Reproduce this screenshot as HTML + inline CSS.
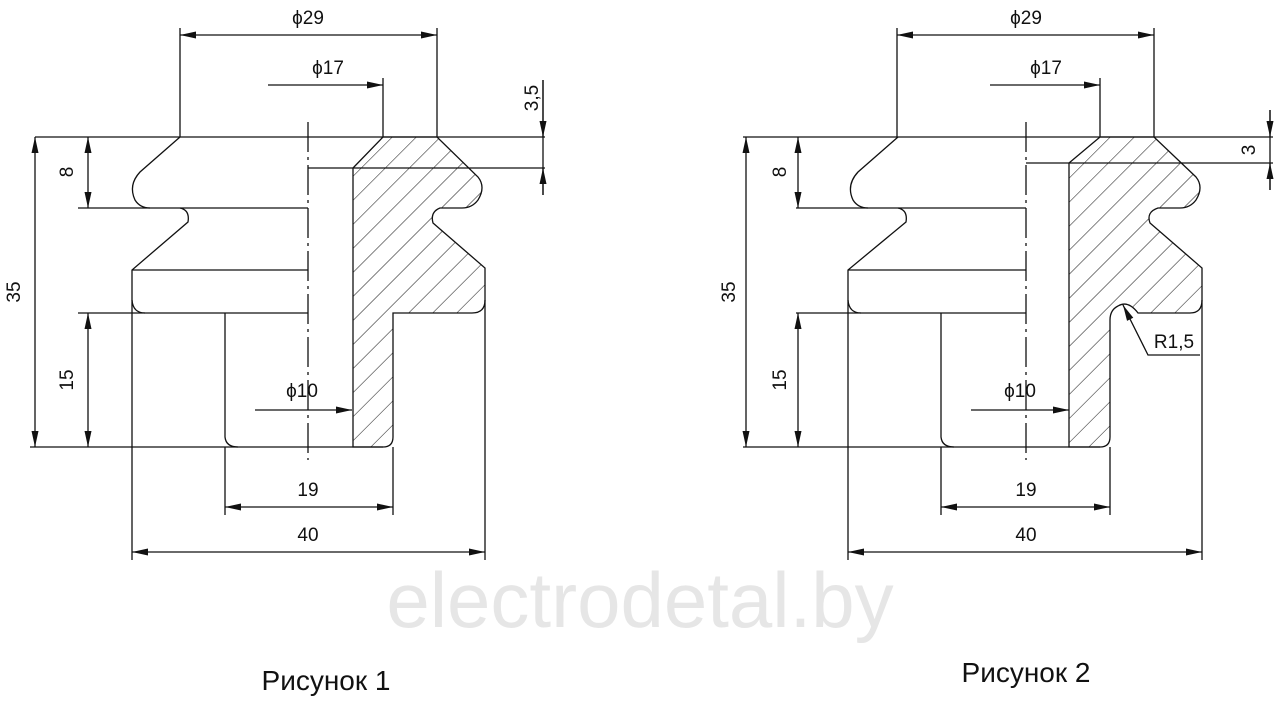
<!DOCTYPE html>
<html><head><meta charset="utf-8"><style>
html,body{margin:0;padding:0;background:#fff;width:1280px;height:701px;overflow:hidden}
svg{display:block}
text{font-family:"Liberation Sans",sans-serif;fill:#111}
</style></head><body>
<svg width="1280" height="701" viewBox="0 0 1280 701" xmlns="http://www.w3.org/2000/svg">
<defs>
<pattern id="h" patternUnits="userSpaceOnUse" width="17" height="17" patternTransform="rotate(45)">
<line x1="0" y1="0" x2="0" y2="17" stroke="#222" stroke-width="1.1"/>
</pattern>
<marker id="a" viewBox="0 0 16 7" refX="16" refY="3.5" markerWidth="16" markerHeight="7" orient="auto-start-reverse" markerUnits="userSpaceOnUse">
<path d="M0,0 L16,3.5 L0,7 Z" fill="#111"/>
</marker>
</defs>
<g fill="none" stroke="#111" stroke-width="1.3">
<g>
<path d="M353,168 L383,137 L437,137 L478,177 Q486,187 478,200 Q472,208 462,208 L440,208 Q430,212 433,223 L485,268 L485,300 Q485,313 472,313 L393,313 L393,437 Q393,447 383,447 L353,447 Z" fill="url(#h)"/>
<path d="M180,137 L140,172 Q128,185 135,200 Q140,208 150,208"/>
<path d="M180,208 Q190,210 188,222 L132,270 L132,300 Q133,313 145,313"/>
<path d="M225,313 L225,437 Q226,447 238,447"/>
<path d="M78,208 H308 M132,270 H308 M78,313 H308 M30,447 H383 M35,137 H545 M308,168 H545"/>
<path d="M308,122 V460" stroke-dasharray="30,5,3,5"/>
<path d="M132,300 V560 M485,300 V560 M225,447 V515 M393,447 V515 M180,28 V137 M437,28 V137 M383,78 V137 M543,80 V195"/>
<path d="M180,35 H437" marker-start="url(#a)" marker-end="url(#a)"/>
<path d="M268,85 H383" marker-end="url(#a)"/>
<path d="M543,80 V137" marker-end="url(#a)"/>
<path d="M543,195 V168" marker-end="url(#a)"/>
<path d="M88,137 V208" marker-start="url(#a)" marker-end="url(#a)"/>
<path d="M35,137 V447" marker-start="url(#a)" marker-end="url(#a)"/>
<path d="M88,313 V447" marker-start="url(#a)" marker-end="url(#a)"/>
<path d="M255,410 H352" marker-end="url(#a)"/>
<path d="M225,507 H393" marker-start="url(#a)" marker-end="url(#a)"/>
<path d="M132,552 H485" marker-start="url(#a)" marker-end="url(#a)"/>
</g>
<g transform="translate(718,0)">
<path d="M351,163 L382,137 L436,137 L478,177 Q486,187 478,200 Q472,208 462,208 L440,208 Q428,212 432,223 L484,268 L484,300 Q484,313 472,313 L420,313 Q410,300 400,306 Q392,310 392,320 L392,437 Q392,447 382,447 L351,447 Z" fill="url(#h)"/>
<path d="M180,137 L140,172 Q128,185 135,200 Q140,208 150,208"/>
<path d="M180,208 Q190,210 188,222 L130,270 L130,300 Q131,313 143,313"/>
<path d="M223,313 L223,437 Q224,447 236,447"/>
<path d="M78,208 H308 M130,270 H308 M78,313 H308 M25,447 H382 M25,137 H555 M308,163 H555"/>
<path d="M308,122 V460" stroke-dasharray="30,5,3,5"/>
<path d="M130,300 V560 M484,300 V560 M223,447 V515 M392,447 V515 M179,28 V137 M436,28 V137 M382,78 V137 M552,110 V190"/>
<path d="M179,35 H436" marker-start="url(#a)" marker-end="url(#a)"/>
<path d="M272,85 H382" marker-end="url(#a)"/>
<path d="M552,110 V137" marker-end="url(#a)"/>
<path d="M552,190 V163" marker-end="url(#a)"/>
<path d="M80,137 V208" marker-start="url(#a)" marker-end="url(#a)"/>
<path d="M28,137 V447" marker-start="url(#a)" marker-end="url(#a)"/>
<path d="M80,313 V447" marker-start="url(#a)" marker-end="url(#a)"/>
<path d="M253,410 H351" marker-end="url(#a)"/>
<path d="M223,507 H392" marker-start="url(#a)" marker-end="url(#a)"/>
<path d="M130,552 H484" marker-start="url(#a)" marker-end="url(#a)"/>
<path d="M482,355 H430 L405,305" marker-end="url(#a)"/>
</g>
</g>
<g font-size="19" text-anchor="middle">
<text x="308" y="24">ϕ29</text>
<text x="328" y="74">ϕ17</text>
<text x="302" y="397">ϕ10</text>
<text x="308" y="496">19</text>
<text x="308" y="541">40</text>
<text transform="translate(538,98) rotate(-90)">3,5</text>
<text transform="translate(73,172) rotate(-90)">8</text>
<text transform="translate(20,292) rotate(-90)">35</text>
<text transform="translate(73,380) rotate(-90)">15</text>
<text x="1026" y="24">ϕ29</text>
<text x="1046" y="74">ϕ17</text>
<text x="1020" y="397">ϕ10</text>
<text x="1026" y="496">19</text>
<text x="1026" y="541">40</text>
<text transform="translate(1255,150) rotate(-90)">3</text>
<text transform="translate(786,172) rotate(-90)">8</text>
<text transform="translate(735,292) rotate(-90)">35</text>
<text transform="translate(786,380) rotate(-90)">15</text>
<text x="1174" y="348">R1,5</text>
</g>
<text x="640" y="627" font-size="78" text-anchor="middle" style="fill:#e6e6e6">electrodetal.by</text>
<text x="326" y="690" font-size="28" text-anchor="middle">Рисунок 1</text>
<text x="1026" y="682" font-size="28" text-anchor="middle">Рисунок 2</text>
</svg>
</body></html>
